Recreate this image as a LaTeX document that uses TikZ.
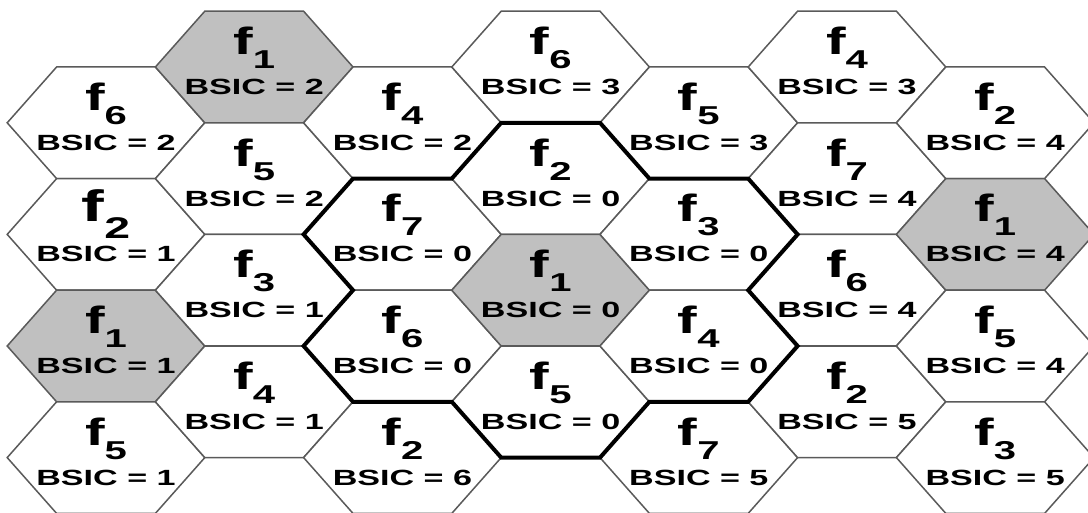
\documentclass[tikz,border=0pt]{standalone}
\usepackage{fontspec}
\setmainfont{Liberation Sans}
\newfontfamily\hexfont{Liberation Sans}[FakeStretch=1.55]
\usepackage{tikz}
\usetikzlibrary{positioning}
\definecolor{cellgray}{RGB}{192,192,192}
\definecolor{edgegray}{RGB}{90,90,90}
\newcommand\fsub[1]{\begingroup\dimen0=0.68em\lower0.37em\hbox{\fontsize{\dimen0}{\dimen0}\selectfont#1}\endgroup}
\def\cells{0/0/6/2/white/19, 0/1/2/1/white/22, 0/2/1/1/cellgray/19, 0/3/5/1/white/19,
  1/0/1/2/cellgray/19, 1/1/5/2/white/19, 1/2/3/1/white/19, 1/3/4/1/white/19,
  2/0/4/2/white/19, 2/1/7/0/white/19, 2/2/6/0/white/19, 2/3/2/6/white/19,
  3/0/6/3/white/19, 3/1/2/0/white/19, 3/2/1/0/cellgray/19, 3/3/5/0/white/19,
  4/0/5/3/white/19, 4/1/3/0/white/19, 4/2/4/0/white/19, 4/3/7/5/white/19,
  5/0/4/3/white/19, 5/1/7/4/white/19, 5/2/6/4/white/19, 5/3/2/5/white/19,
  6/0/2/4/white/19, 6/1/1/4/cellgray/19, 6/2/5/4/white/19, 6/3/3/5/white/19}

\begin{document}
\begin{tikzpicture}[x=0.5pt,y=-0.5pt,
    cell/.style={draw=edgegray,line width=0.75pt},
    cluster/.style={draw=black,line width=2pt},
    freq/.style={anchor=base,inner sep=0pt,font=\hexfont\bfseries\fontsize{#1}{#1}\selectfont},
    bsic/.style={anchor=base,inner sep=0pt,font=\hexfont\bfseries\fontsize{11}{11}\selectfont}]
  \useasboundingbox (0,0) rectangle (1088,513);
  \clip (0,0) rectangle (1088,513);

  \foreach \c/\r/\n/\b/\fc/\fz in \cells {
    \pgfmathsetmacro\x{106+148.2*\c}
    \pgfmathsetmacro\y{(isodd(\c) ? 67 : 122.8)+111.6*\r}
    \coordinate (c\c\r) at (\x,\y);
    \foreach \k in {1,...,6}
      \path (c\c\r) ++({60*(\k-1)}:98.8 and 64.43) coordinate (c\c\r-\k);
    \filldraw[cell,fill=\fc] (c\c\r-1) -- (c\c\r-2) -- (c\c\r-3) -- (c\c\r-4) -- (c\c\r-5) -- (c\c\r-6) -- cycle;
  }

  \draw[cluster] (c31-5) -- (c31-6) -- (c31-1) -- (c41-6) -- (c41-1) -- (c41-2)
    -- (c42-1) -- (c42-2) -- (c42-3) -- (c33-2) -- (c33-3) -- (c33-4)
    -- (c22-3) -- (c22-4) -- (c22-5) -- (c21-4) -- (c21-5) -- (c21-6) -- cycle;

  \foreach \c/\r/\n/\b/\fc/\fz in \cells {
    \node[freq=\fz,yshift=6.25pt] (f\c\r) at (c\c\r) {f\fsub{\n}};
    \node[bsic,yshift=-13.75pt] (b\c\r) at (c\c\r) {BSIC = \b};
  }
\end{tikzpicture}
\end{document}
